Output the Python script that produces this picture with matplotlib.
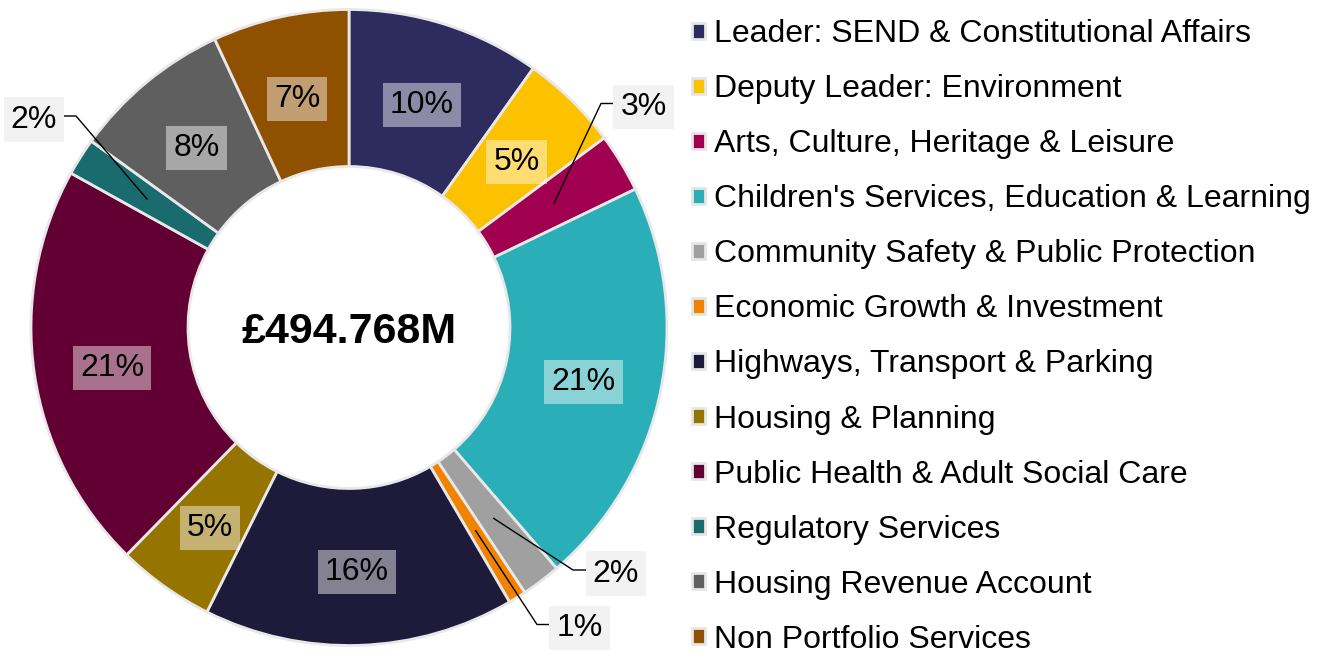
import matplotlib.pyplot as plt
import numpy as np
from matplotlib.patches import Patch

plt.rcParams["font.family"] = ["Liberation Sans", "DejaVu Sans"]

DEPARTMENTS = [
    "Leader: SEND & Constitutional Affairs",
    "Deputy Leader: Environment",
    "Arts, Culture, Heritage & Leisure",
    "Children's Services, Education & Learning",
    "Community Safety & Public Protection",
    "Economic Growth & Investment",
    "Highways, Transport & Parking",
    "Housing & Planning",
    "Public Health & Adult Social Care",
    "Regulatory Services",
    "Housing Revenue Account",
    "Non Portfolio Services",
]
SHARES = [9.84, 5.0, 3.0, 20.85, 2.0, 0.9, 15.8, 4.95, 20.75, 1.9, 8.1, 6.94]
COLORS = [
    "#2e2b5f", "#fcc200", "#a10050", "#2aafb8", "#a0a0a0", "#f08400",
    "#1e1b3a", "#967400", "#620033", "#1a6b6e", "#5f5f5f", "#8f5000",
]
TOTAL_LABEL = "£494.768M"

W, H = 1326, 657
CX, CY, R, R_IN = 349, H - 327.5, 318, 161

# small slices get their label outside: (elbow px, label centre px), y from top
OUTSIDE = {
    2: ((601, 103.5), (643.5, 103.5)),
    4: ((573, 570), (616, 570)),
    5: ((537, 624.5), (579.5, 624.5)),
    9: ((76, 116), (34, 116)),
}

fig = plt.figure(figsize=(W / 100, H / 100), dpi=100)
ax = fig.add_axes([0, 0, 1, 1])

wedges, _ = ax.pie(
    SHARES,
    colors=COLORS,
    startangle=90,
    counterclock=False,
    radius=R,
    center=(CX, CY),
    wedgeprops=dict(width=R - R_IN, edgecolor="#e8e8e8", linewidth=2),
)
ax.set_xlim(0, W)
ax.set_ylim(0, H)
ax.set_aspect("equal")
ax.axis("off")

total = sum(SHARES)
r_mid = (R + R_IN) / 2
for i, (w, v) in enumerate(zip(wedges, SHARES)):
    label = f"{round(v / total * 100)}%"
    mid = np.deg2rad((w.theta1 + w.theta2) / 2)
    x = CX + r_mid * np.cos(mid)
    y = CY + r_mid * np.sin(mid)
    if i in OUTSIDE:
        (ex, ey), (tx, ty) = OUTSIDE[i]
        ax.plot([x, ex, tx], [y, H - ey, H - ty], color="black", lw=1, zorder=4)
        ax.text(tx, H - ty, label, ha="center", va="center_baseline", fontsize=23, zorder=5,
                bbox=dict(boxstyle="square,pad=0.22", fc="#f2f2f2", ec="none"))
    else:
        ax.text(x, y - 2, label, ha="center", va="center_baseline", fontsize=23, zorder=5,
                bbox=dict(boxstyle="square,pad=0.22", fc="white", alpha=0.45, ec="none"))

ax.text(CX, CY, TOTAL_LABEL, ha="center", va="center_baseline", fontsize=31, fontweight="bold")

handles = [Patch(facecolor=c, edgecolor="#e6e6e6", linewidth=2) for c in COLORS]
fig.legend(
    handles,
    DEPARTMENTS,
    loc="upper left",
    bbox_to_anchor=(692 / W, 1 - 19 / H),
    frameon=False,
    fontsize=23,
    handlelength=0.4,
    handleheight=0.4,
    handletextpad=0.3,
    labelspacing=0.785,
    borderpad=0,
    borderaxespad=0,
)

fig.savefig("out.png", dpi=100)
